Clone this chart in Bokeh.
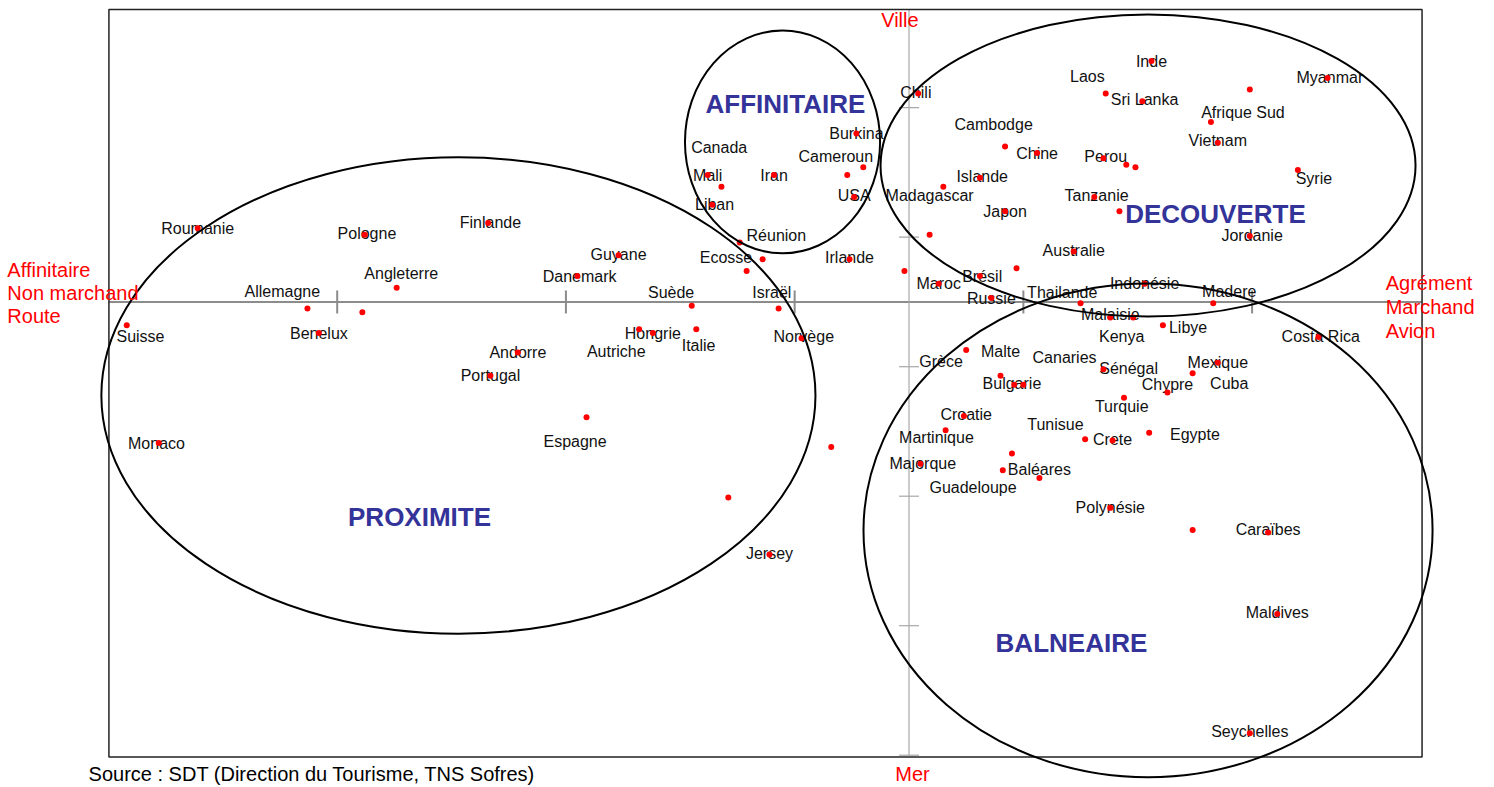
import math
from bokeh.plotting import figure
from bokeh.models import Range1d
from bokeh.core.properties import value
from bokeh.embed import file_html
from bokeh.resources import INLINE

# ---- data (factor-map coordinates) ----
dot_x = [-3.11, -2.38, -1.84, 0.04, -0.23, -0.88, -0.82, -0.86, -0.59, -0.27,
         -0.20, -0.24, 0.15, 0.31, -0.74, 0.09, 0.42, 0.42, 0.56, 1.06,
         0.86, 1.02, 1.49, 1.83, 1.32, 1.35, 0.85, 0.95, 0.99, 1.70,
         0.81, 0.92, 1.49, 0.72, -0.02, 0.47, 0.13, 0.31, 0.36, 0.75,
         1.03, 0.88, 0.98, 1.11, 0.25, 0.85, 0.40, 0.46, 0.50, 1.13,
         1.24, 1.35, 0.94, 1.79, 1.33, 0.77, 0.89, 1.05, 0.45, 0.41,
         0.57, 0.88, 0.24, 0.16, 0.05, 1.24, 1.57, 1.61, 1.49, -2.63,
         -2.24, -2.39, -3.42, -2.58, -3.28, -1.83, -1.71, -1.27, -0.64, -0.71,
         -0.26, -1.45, -0.95, -0.57, -1.18, -1.12, -0.93, -0.47, -1.41, -0.34,
         -0.79, -0.61]
dot_y = [0.57, 0.52, 0.61, 1.61, 1.30, 0.98, 0.89, 0.75, 0.98, 0.98,
         1.04, 0.81, 0.89, 0.96, 0.46, 0.52, 0.70, 1.20, 1.15, 1.86,
         1.61, 1.55, 1.64, 1.73, 1.39, 1.23, 1.11, 1.06, 1.04, 1.02,
         0.81, 0.70, 0.51, 0.39, 0.24, 0.26, 0.14, 0.20, 0.03, -0.01,
         0.14, -0.12, -0.12, -0.18, -0.37, -0.52, -0.57, -0.64, -0.64, -0.70,
         -0.55, -0.47, -0.74, -0.27, -0.01, -1.06, -1.07, -1.01, -1.17, -1.30,
         -1.36, -1.59, -0.88, -0.99, -1.25, -1.76, -1.78, -2.41, -3.33, -0.05,
         0.11, -0.08, -0.18, -0.24, -1.09, -0.57, -0.39, 0.36, 0.33, 0.24,
         0.33, 0.20, -0.03, -0.05, -0.21, -0.24, -0.21, -0.28, -0.89, -1.12,
         -1.51, -1.95]

label_names = ["Roumanie", "Pologne", "Finlande", "Chili", "Burkina", "Canada", "Mali", "Iran",
               "Cameroun", "USA", "Madagascar", "Islande", "Liban", "Réunion", "Japon", "Cambodge",
               "Chine", "Inde", "Laos", "Sri Lanka", "Myanmar", "Afrique Sud", "Vietnam", "Perou",
               "Syrie", "Tanzanie", "Jordanie", "Australie", "Maroc", "Brésil", "Russie", "Thailande",
               "Indonésie", "Malaisie", "Libye", "Kenya", "Grèce", "Malte", "Canaries", "Sénégal",
               "Bulgarie", "Chypre", "Mexique", "Cuba", "Turquie", "Costa Rica", "Madere", "Tunisue",
               "Crete", "Egypte", "Baléares", "Polynésie", "Croatie", "Martinique", "Majorque",
               "Guadeloupe", "Caraïbes", "Maldives", "Seychelles", "Allemagne", "Angleterre", "Suisse",
               "Benelux", "Monaco", "Portugal", "Andorre", "Guyane", "Ecosse", "Irlande", "Danemark",
               "Suède", "Israël", "Hongrie", "Italie", "Autriche", "Norvège", "Espagne", "Jersey"]
label_x = [-3.11, -2.37, -1.83, 0.03, -0.23, -0.83, -0.88, -0.59,
           -0.32, -0.24, 0.09, 0.32, -0.85, -0.58, 0.42, 0.37,
           0.56, 1.06, 0.78, 1.03, 1.84, 1.46, 1.35, 0.86,
           1.77, 0.82, 1.50, 0.72, 0.13, 0.32, 0.36, 0.67,
           1.03, 0.88, 1.22, 0.93, 0.14, 0.40, 0.68, 0.96,
           0.45, 1.13, 1.35, 1.40, 0.93, 1.80, 1.40, 0.64,
           0.89, 1.25, 0.57, 0.88, 0.25, 0.12, 0.06,
           0.28, 1.57, 1.61, 1.49, -2.74, -2.22, -3.36,
           -2.58, -3.29, -1.83, -1.71, -1.27, -0.80, -0.26, -1.44,
           -1.04, -0.60, -1.12, -0.92, -1.28, -0.46, -1.46, -0.61]
label_y = [0.57, 0.53, 0.61, 1.62, 1.30, 1.19, 0.98, 0.98,
           1.12, 0.82, 0.82, 0.97, 0.75, 0.51, 0.70, 1.37,
           1.15, 1.86, 1.74, 1.56, 1.73, 1.46, 1.25, 1.12,
           0.95, 0.82, 0.51, 0.40, 0.14, 0.20, 0.03, 0.07,
           0.14, -0.10, -0.20, -0.27, -0.46, -0.38, -0.43, -0.51,
           -0.63, -0.64, -0.47, -0.63, -0.81, -0.27, 0.08, -0.95,
           -1.06, -1.02, -1.29, -1.59, -0.87, -1.05, -1.25,
           -1.43, -1.76, -2.40, -3.32, 0.08, 0.22, -0.27,
           -0.24, -1.09, -0.57, -0.39, 0.37, 0.34, 0.34, 0.20,
           0.07, 0.07, -0.24, -0.34, -0.38, -0.27, -1.08, -1.94]

group_names = ["AFFINITAIRE", "DECOUVERTE", "PROXIMITE", "BALNEAIRE"]
group_label_x = [-0.54, 1.34, -2.14, 0.71]
group_label_y = [1.53, 0.68, -1.66, -2.63]
group_cx = [-0.553, 1.045, -1.970, 1.045]
group_cy = [1.236, 1.054, -0.722, -1.764]
group_w = [0.853, 2.339, 3.122, 2.488]
group_h = [1.722, 2.332, 3.680, 3.812]

x_ticks = [-2.5, -1.5, -0.5, 0.5, 1.5]
y_ticks = [1.5, 0.5, -0.5, -1.5, -2.5, -3.5]

left_pole = ["Affinitaire", "Non marchand", "Route"]
right_pole = ["Agrément", "Marchand", "Avion"]
top_pole = "Ville"
bottom_pole = "Mer"
source_text = "Source : SDT (Direction du Tourisme, TNS Sofres)"

# ---- layout: the canvas is the whole frame; the map box is drawn as a quad ----
BOX_L, BOX_R, BOX_B, BOX_T = -3.498, 2.243, -3.514, 2.259
FONT = "Liberation Sans"
RED = "#ff0000"

p = figure(width=1492, height=785,
           x_range=Range1d(-3.972, 2.551), y_range=Range1d(-3.734, 2.328),
           x_axis_location=None, y_axis_location=None,
           toolbar_location=None, output_backend="svg",
           min_border=0)
p.grid.visible = False
p.outline_line_color = None
p.background_fill_color = "white"
p.border_fill_color = "white"

# axes through origin
p.segment(x0=[BOX_L], y0=[0], x1=[BOX_R], y1=[0], line_color="#8c8c8c", line_width=2)
p.segment(x0=[0], y0=[y_ticks[-1]], x1=[0], y1=[BOX_T], line_color="#a8a8a8", line_width=1.2)
p.scatter(x=x_ticks, y=[0] * len(x_ticks), marker="dash", angle=math.pi / 2,
          size=23, line_color="#8c8c8c", line_width=2)
p.scatter(x=[0] * len(y_ticks), y=y_ticks, marker="dash",
          size=20, line_color="#a8a8a8", line_width=1.2)

# map box
p.quad(left=[BOX_L], right=[BOX_R], bottom=[BOX_B], top=[BOX_T],
       fill_color=None, line_color="#222222", line_width=1.5)

# labels
p.text(x=label_x, y=label_y, text=label_names, text_align="center",
       text_baseline="middle", text_font=value(FONT), text_font_size="16px",
       text_color="#111111")

# points
p.scatter(x=dot_x, y=dot_y, size=6, fill_color=RED, line_color=None)

# group ellipses
p.ellipse(x=group_cx, y=group_cy, width=group_w, height=group_h,
          fill_color=None, line_color="black", line_width=2)

p.text(x=group_label_x, y=group_label_y, text=group_names, text_align="center",
       text_baseline="middle", text_font=value(FONT), text_font_size="26px",
       text_font_style="bold", text_color="#333399")

# pole labels
p.text(x=[-3.942] * 3, y=[0.243 - i * 0.177 for i in range(3)], text=left_pole,
       text_align="left", text_baseline="middle", text_font=value(FONT),
       text_font_size="20px", text_color=RED)
p.text(x=[2.084] * 3, y=[0.143 - i * 0.182 for i in range(3)], text=right_pole,
       text_align="left", text_baseline="middle", text_font=value(FONT),
       text_font_size="20px", text_color=RED)
p.text(x=[-0.04, 0.015], y=[2.174, -3.645], text=[top_pole, bottom_pole],
       text_align="center", text_baseline="middle", text_font=value(FONT),
       text_font_size="20px", text_color=RED)
p.text(x=[-3.587], y=[-3.645], text=[source_text], text_align="left",
       text_baseline="middle", text_font=value(FONT), text_font_size="20px",
       text_color="black")

open("out.html", "w").write(file_html(p, INLINE))
